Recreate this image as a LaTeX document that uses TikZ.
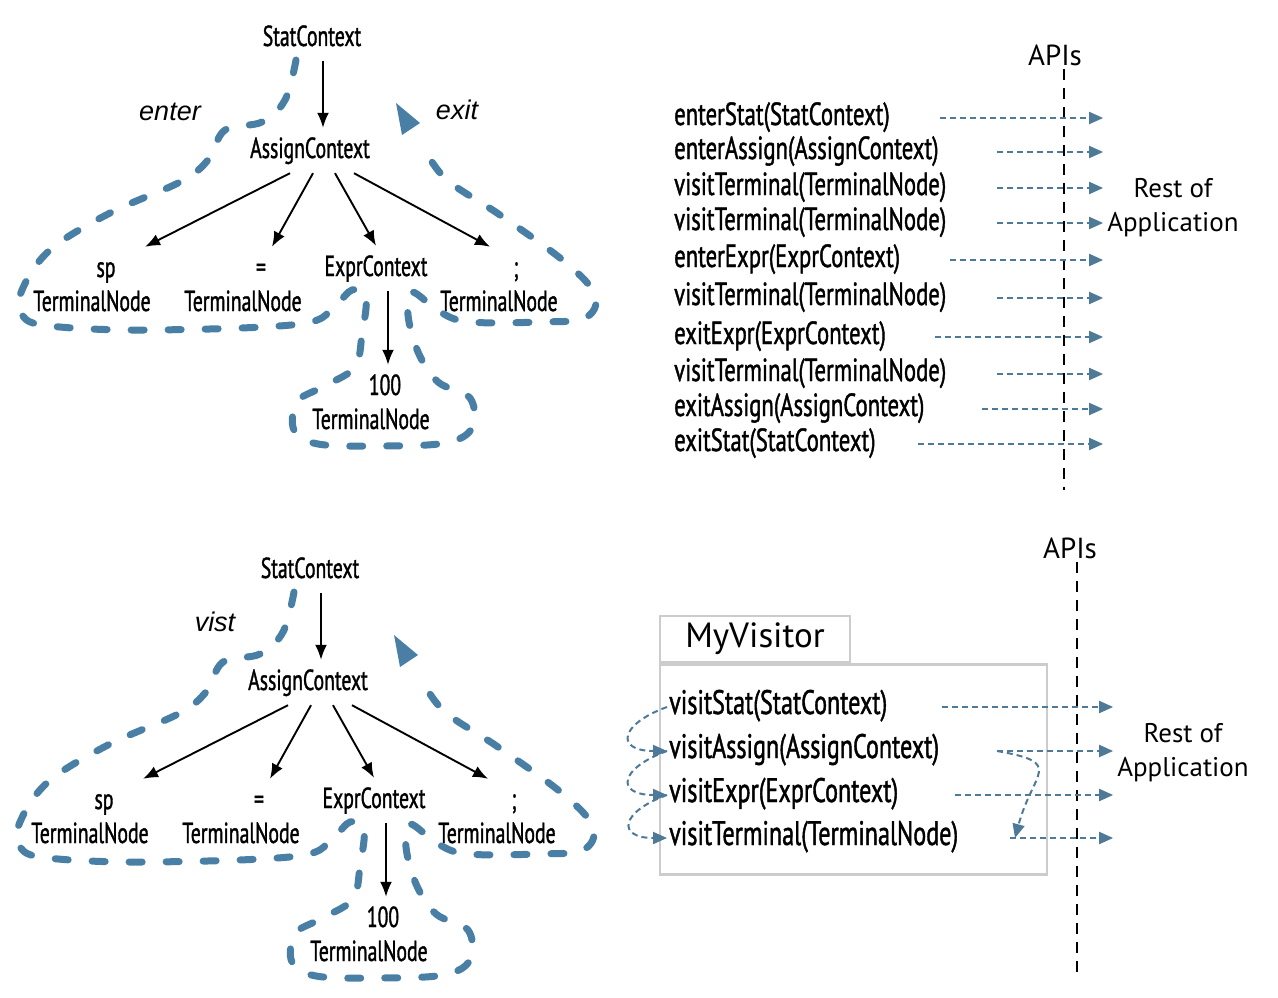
\documentclass[tikz,border=0pt]{standalone}
\usepackage{fontspec}
\setmainfont{PT Sans}
\newfontfamily\condfont[FakeStretch=0.68, FakeBold=1.2]{PT Sans}
\newfontfamily\listfont[FakeStretch=0.71, FakeBold=1.2]{PT Sans}
\newfontfamily\itfont{Liberation Sans}
\usetikzlibrary{arrows.meta}

\definecolor{tourblue}{RGB}{74,127,165}
\definecolor{flowblue}{RGB}{78,122,152}
\definecolor{boxgray}{RGB}{204,204,204}

% parse tree of "sp = 100;" with the walk around it
\newcommand{\parsetree}{%
\node[ctx] (stat)   at (312,46)  {StatContext};
\node[ctx] (assign) at (310,158) {AssignContext};
\node[ctx] (sp)     at (106,277) {sp};
\node[ctx] (spT)    at (92,311)  {TerminalNode};
\node[ctx] (eq)     at (261,277) {=};
\node[ctx] (eqT)    at (243,311) {TerminalNode};
\node[ctx] (expr)   at (376,276) {ExprContext};
\node[ctx] (semi)   at (516,277) {;};
\node[ctx] (semiT)  at (499,311) {TerminalNode};
\node[ctx] (num)    at (385,395) {100};
\node[ctx] (numT)   at (371,429) {TerminalNode};

\draw[edge] ([xshift=11pt]stat.south)  -- ([xshift=11pt]stat.south |- assign.north);
\draw[edge] ([xshift=-20pt]assign.south) -- ([xshift=39pt]sp.north);
\draw[edge] ([xshift=3pt]assign.south)   -- ([xshift=11pt]eq.north);
\draw[edge] ([xshift=25pt]assign.south)  -- (expr.north);
\draw[edge] ([xshift=44pt]assign.south)  -- ([xshift=-26pt]semi.north);
\draw[edge] ([xshift=12pt]expr.south)  -- ([xshift=12pt]expr.south |- num.north);

\draw[tour] plot[smooth, tension=0.6] coordinates {(296,60) (285,100) (262,122) (225,130) (208,160)
  (180,182) (110,213) (50,250) (22,290) (22,315) (50,326) (150,330) (300,324) (335,305) (352,290)
  (366,296) (362,335) (354,368) (320,388) (297,402) (294,430) (318,444) (380,446) (445,443)
  (472,428) (470,398) (438,382) (418,352) (408,315) (412,292) (440,312) (470,322) (540,322)
  (585,318) (595,295) (565,262) (500,215) (447,180) (425,150)};
\fill[tourblue] (396,103) -- (420,123) -- (402,135) -- cycle;
}

\begin{document}
\begin{tikzpicture}[x=1pt, y=-1pt,
  tour/.style={draw=tourblue, line width=7pt, line cap=round, dash pattern=on 13pt off 24pt},
  edge/.style={-{Latex[length=15pt,width=12pt]}, line width=1.9pt},
  ctx/.style={anchor=base, font=\condfont\fontsize{29}{33}\selectfont, text height=21pt, text depth=6pt, inner xsep=1pt, inner ysep=9pt},
  verb/.style={font=\itfont\itshape\fontsize{27}{30}\selectfont},
  api/.style={font=\fontsize{29}{32}\selectfont},
  app/.style={font=\fontsize{27}{34}\selectfont, align=center, inner sep=4pt},
  call/.style={anchor=base west, font=\listfont\fontsize{32}{36}\selectfont, text height=21pt, text depth=7pt, inner sep=2pt},
  bigcall/.style={call, font=\listfont\fontsize{34}{38}\selectfont},
  apiline/.style={line width=2.4pt, dash pattern=on 11pt off 8pt},
  flow/.style={draw=flowblue, line width=2pt, dash pattern=on 6pt off 4pt, -{Triangle[length=14pt,width=12pt]}},
  frame/.style={draw=boxgray, line width=2.5pt}]
\useasboundingbox (0,0) rectangle (1278,998);

% listener
\begin{scope}[name prefix=top-]
\parsetree
\end{scope}
\node[verb] (enter) at (170,112) {enter};
\node[verb] (exit)  at (457,110) {exit};

\node[api] (apis1) at (1055,55) {APIs};
\coordinate (apiend1) at (1064,490);
\draw[apiline] ([xshift=9pt]apis1.south) -- (apiend1);
\node[app] (rest1) at (1173,208) {Rest of\\Application};

\node[call] (es)  at (672,125) {enterStat(StatContext)};
\node[call] (ea)  at (672,159) {enterAssign(AssignContext)};
\node[call] (vt1) at (672,195) {visitTerminal(TerminalNode)};
\node[call] (vt2) at (672,230) {visitTerminal(TerminalNode)};
\node[call] (ee)  at (672,267) {enterExpr(ExprContext)};
\node[call] (vt3) at (672,305) {visitTerminal(TerminalNode)};
\node[call] (xe)  at (672,344) {exitExpr(ExprContext)};
\node[call] (vt4) at (672,381) {visitTerminal(TerminalNode)};
\node[call] (xa)  at (672,416) {exitAssign(AssignContext)};
\node[call] (xs)  at (672,451) {exitStat(StatContext)};

\draw[flow] ([xshift=268pt]es.west)  -- (es -| rest1.west);
\draw[flow] ([xshift=325pt]ea.west)  -- (ea -| rest1.west);
\draw[flow] ([xshift=325pt]vt1.west) -- (vt1 -| rest1.west);
\draw[flow] ([xshift=325pt]vt2.west) -- (vt2 -| rest1.west);
\draw[flow] ([xshift=278pt]ee.west)  -- (ee -| rest1.west);
\draw[flow] ([xshift=325pt]vt3.west) -- (vt3 -| rest1.west);
\draw[flow] ([xshift=263pt]xe.west)  -- (xe -| rest1.west);
\draw[flow] ([xshift=325pt]vt4.west) -- (vt4 -| rest1.west);
\draw[flow] ([xshift=310pt]xa.west)  -- (xa -| rest1.west);
\draw[flow] ([xshift=246pt]xs.west)  -- (xs -| rest1.west);

% visitor
\begin{scope}[shift={(-2,532)}, name prefix=bot-]
\parsetree
\end{scope}
\node[verb] (vist) at (215,622) {vist};

\node[api] (apis2) at (1070,548) {APIs};
\coordinate (apiend2) at (1077,972);
\draw[apiline] ([xshift=7pt]apis2.south) -- (apiend2);
\node[app] (rest2) at (1183,753) {Rest of\\Application};

\node[frame, minimum width=190pt, minimum height=46pt, font=\fontsize{35}{38}\selectfont] (myv) at (755,639) {MyVisitor};
\node[frame, minimum width=387pt, minimum height=210pt, anchor=north west] (vbox) at (myv.south west) {};

\node[bigcall] (vs) at (667,714) {visitStat(StatContext)};
\node[bigcall] (va) at (667,758) {visitAssign(AssignContext)};
\node[bigcall] (vx) at (667,802) {visitExpr(ExprContext)};
\node[bigcall] (vt) at (667,845) {visitTerminal(TerminalNode)};

\draw[flow] (vs.west) to[out=200, in=180, looseness=3] (va.west);
\draw[flow] (va.west) to[out=200, in=180, looseness=3] (vx.west);
\draw[flow] (vx.west) to[out=200, in=180, looseness=3] (vt.west);

\draw[flow] ([xshift=275pt]vs.west) -- (vs -| rest2.west);
\draw[flow] ([xshift=330pt]va.west) -- (va -| rest2.west);
\draw[flow] ([xshift=288pt]vx.west) -- (vx -| rest2.west);
\draw[flow] ([xshift=343pt]vt.west) -- (vt -| rest2.west);
\draw[flow] ([xshift=330pt]va.west) to[out=-10, in=75, looseness=2] ([xshift=348pt]vt.west);
\end{tikzpicture}
\end{document}
